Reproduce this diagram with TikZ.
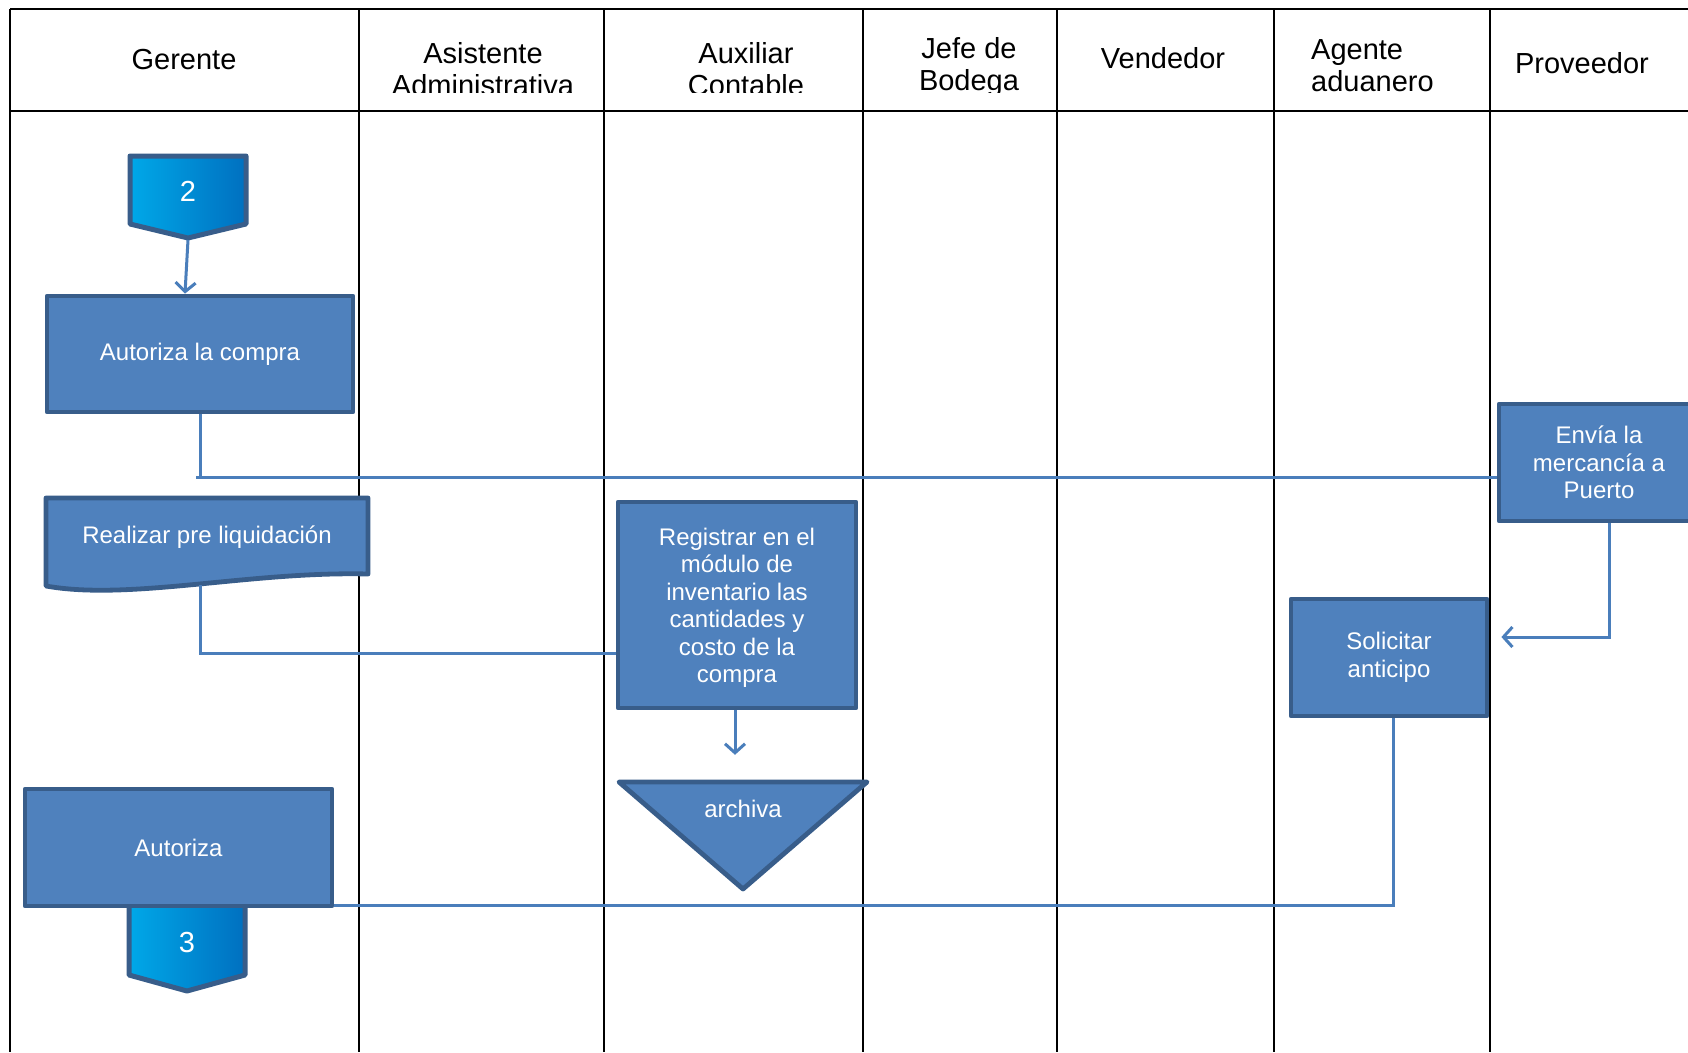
\documentclass[tikz,border=0pt]{standalone}
\usepackage{fontspec}
\setmainfont{Liberation Sans}
\usetikzlibrary{arrows.meta}
\definecolor{boxfill}{RGB}{79,129,189}
\definecolor{boxedge}{RGB}{56,93,138}
\definecolor{linkc}{RGB}{74,126,187}
\definecolor{cyanA}{RGB}{0,168,232}
\definecolor{cyanB}{RGB}{0,182,242}
\definecolor{blueC}{RGB}{0,112,192}
\begin{document}
\begin{tikzpicture}[x=1pt,y=-1pt,
  box/.style={draw=boxedge, fill=boxfill, line width=4.8pt, line join=round, text=white,
    font=\fontsize{24}{27.5}\selectfont, align=center, inner sep=0pt},
  ghost/.style={text=white, font=\fontsize{24}{27.5}\selectfont, align=center, inner sep=0pt},
  shapeline/.style={draw=boxedge, fill=boxfill, line width=4.8pt, line join=round},
  offpage/.style={draw=boxedge, line width=5pt, line join=round, left color=cyanA, middle color=cyanB, right color=blueC, shading angle=90},
  offtext/.style={text=white, font=\fontsize{29}{32}\selectfont, inner sep=0pt},
  link/.style={draw=linkc, line width=3pt},
  arr/.style={link, -{Straight Barb[length=9pt,width=20pt,line width=3pt]}},
  gridline/.style={draw=black, line width=2pt},
  head/.style={font=\fontsize{29}{32}\selectfont, align=center, inner sep=0pt}]

\useasboundingbox (0,0) rectangle (1688,1052);
\fill[white] (0,0) rectangle (1688,1052);

% grid
\draw[gridline] (10,8.6) -- (1688,8.6);
\draw[gridline] (10,111) -- (1688,111);
\draw[gridline] (10,8.6) -- (10,1052);
\foreach \xx in {358.5,604,863,1057,1273.5,1490}
  \draw[gridline] (\xx,8.6) -- (\xx,1052);

% headers (clipped)
\begin{scope}
\clip (0,0) rectangle (1688,92);
\node[head] (hger) at (184,60) {Gerente};
\node[head] (hasi) at (483,69) {Asistente\\Administrativa};
\node[head] (haux) at (746,69) {Auxiliar\\Contable};
\node[head] (hjef) at (969,67.5) {Jefe de\\Bodega};
\node[head] (hven) at (1163,58.5) {Vendedor};
\node[head, align=left, anchor=west] (hage) at (1311,66) {Agente\\aduanero};
\node[head] (hpro) at (1582,63) {Proveedor};
\end{scope}

% off-page connector 2
\path[offpage] (130,156) -- (246,156) -- (246,224) -- (188,238) -- (130,224) -- cycle;
\node[offtext] (c2) at (188,191) {2};
\coordinate (c2s) at (188,240);

% Autoriza la compra
\node[box, minimum width=306, minimum height=116] (autc) at (200,354) {Autoriza la compra};

% Envia
\node[box, minimum width=200, minimum height=117] (envia) at (1599,462.5) {Envía la\\mercancía a\\Puerto};

% Realizar pre liquidacion (document shape)
\path[shapeline] (46,498) -- (368,498) -- (368,574) .. controls (250,571) and (130,601) .. (46,586) -- cycle;
\node[ghost, minimum width=322, minimum height=88] (real) at (207,541) {};
\node[ghost] (realt) at (207,537) {Realizar pre liquidación};

% Registrar
\node[box, minimum width=238, minimum height=206] (reg) at (737,605) {};
\node[ghost] (regt) at (737,608) {Registrar en el\\módulo de\\inventario las\\cantidades y\\costo de la\\compra};

% archiva triangle
\path[shapeline] (619,782) -- (867,782) -- (743,889) -- cycle;
\node[ghost, minimum width=248, minimum height=107] (arch) at (743,835.5) {};
\node[ghost] (archt) at (743,809) {archiva};

% Solicitar anticipo
\node[box, minimum width=196, minimum height=117] (sol) at (1389,657.5) {Solicitar\\anticipo};

% off-page connector 3 (under Autoriza)
\path[offpage] (129,890) -- (245,890) -- (245,975) -- (187,991) -- (129,975) -- cycle;
\node[offtext] (c3) at (187,943) {3};

% Autoriza
\node[box, minimum width=307, minimum height=117] (autz) at (178.5,847.5) {Autoriza};

% connectors
\draw[arr] (c2s) -- ([xshift=-15pt]autc.north);
\draw[link] (autc.south) -- ([yshift=-15pt]autc.south |- envia.west);
\draw[link] ([xshift=-4pt,yshift=-15pt]autc.south |- envia.west) -- ([yshift=-15pt]envia.west);
\draw[link] ([xshift=-7pt]real.south) |- ([yshift=-48pt]reg.west);
\draw[arr, shorten >=27pt] ([xshift=-2pt]reg.south) -- ([xshift=-2pt]reg.south |- arch.north);
\draw[arr, shorten >=12pt] ([xshift=10pt]envia.south) |- ([yshift=20.5pt]sol.east);
\draw[link] ([xshift=4pt]sol.south) |- ([yshift=3pt]autz.south east);

\end{tikzpicture}
\end{document}
